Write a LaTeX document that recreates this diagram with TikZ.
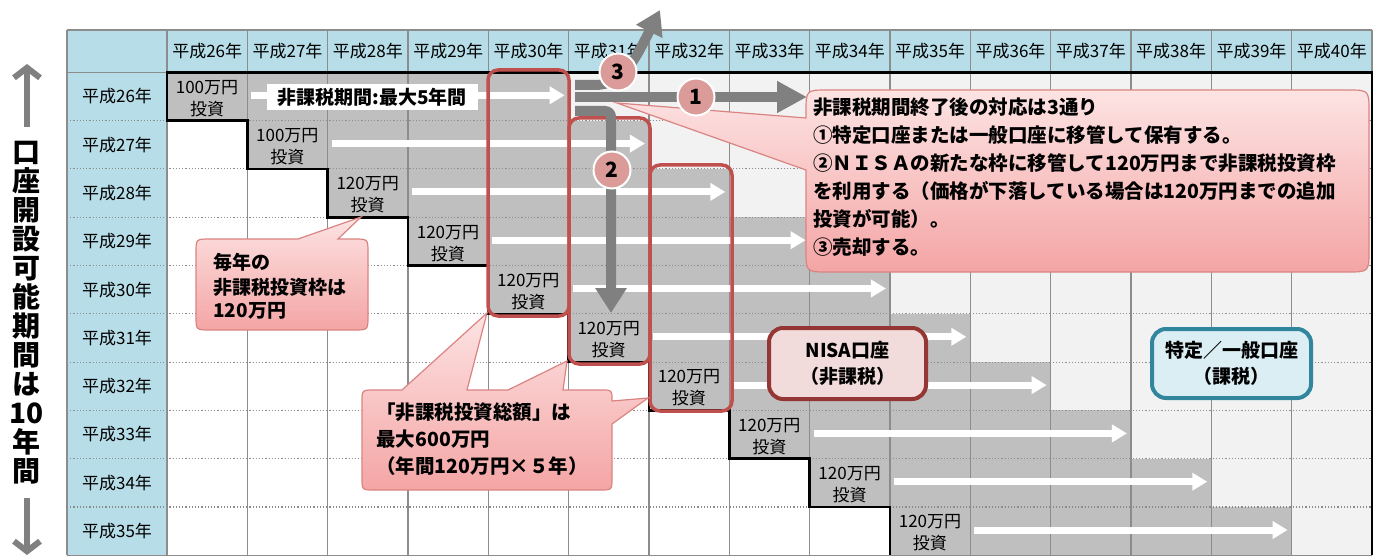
\documentclass[tikz,border=0pt]{standalone}
\usepackage{fontspec}
\newfontfamily\jp{Noto Sans CJK JP}
\usetikzlibrary{arrows.meta}
\definecolor{hdr}{HTML}{B7DEE8}
\definecolor{band}{HTML}{BFBFBF}
\definecolor{lgray}{HTML}{F2F2F2}
\definecolor{gridc}{HTML}{8C8C8C}
\definecolor{redo}{HTML}{C0504D}
\definecolor{garrow}{HTML}{808080}
\definecolor{cpink}{HTML}{DB9B98}
\definecolor{ctop}{HTML}{FDE3E3}
\definecolor{cbot}{HTML}{F4A5A5}
\definecolor{cedge}{HTML}{DA8482}
\definecolor{nisaE}{HTML}{943634}
\definecolor{nisaF}{HTML}{F2DCDB}
\definecolor{tokE}{HTML}{31859C}
\definecolor{tokF}{HTML}{DBEEF4}
\tikzset{
 hdrtext/.style={font=\jp\fontsize{8.5}{10}\selectfont, inner sep=0},
 celltext/.style={font=\jp\fontsize{8.5}{11}\selectfont, align=center, inner sep=0},
 bt/.style={font=\jp\bfseries\fontsize{9.5}{12}\selectfont, inner sep=0, anchor=west},
 btb/.style={font=\jp\bfseries\fontsize{9.75}{12}\selectfont, inner sep=0, anchor=west},
 warrow/.style={white, line width=3.5pt, -{Triangle[length=7.5pt,width=8.5pt]}},
 redframe/.style={draw=redo, line width=1.75pt, rounded corners=5pt},
 grayarrow/.style={garrow, line width=5pt},
 numcircle/.style={circle, fill=cpink, draw=white, line width=1pt, minimum size=18.5pt, inner sep=0, font=\jp\bfseries\fontsize{10.5}{10.5}\selectfont},
 callout/.style={top color=ctop, bottom color=cbot, draw=cedge, line width=0.6pt},
 gridline/.style={gridc, line width=0.6pt},
 acctbox/.style={rounded corners=7pt, line width=2pt, align=center, inner sep=0, font=\jp\bfseries\fontsize{9.5}{13}\selectfont},
}
\begin{document}
\begin{tikzpicture}[x=0.5pt,y=-0.5pt]
\useasboundingbox (0,0) rectangle (1382,556);
\fill[white] (0,0) rectangle (1382,556);
% header and first column
\fill[hdr] (67,30) rectangle (1372,72.3);
\fill[hdr] (67,72.3) rectangle (167,555.3);
% row fills
\foreach \i in {0,...,9} {
  \pgfmathsetmacro\ya{72.3+48.3*\i}
  \pgfmathsetmacro\yb{72.3+48.3*(\i+1)}
  \pgfmathsetmacro\xa{167+80.33*\i}
  \pgfmathsetmacro\xb{167+80.33*(\i+5)}
  \fill[band] (\xa,\ya) rectangle (\xb,\yb);
  \fill[lgray] (\xb,\ya) rectangle (1372,\yb);
}
% grid
\foreach \i in {0,...,15} \draw[gridline] (167+80.33*\i,30) -- (167+80.33*\i,555.3);
\draw[gridline] (67,30) -- (67,555.3);
\draw[gridline] (67,30) -- (1372,30);
\draw[gridline] (67,72.3) -- (167,72.3);
\draw[gridline] (67,555.3) -- (1372,555.3);
\foreach \j in {1,...,9} \draw[gridline, densely dotted] (67,72.3+48.3*\j) -- (1372,72.3+48.3*\j);
% black staircase
\draw[black, line width=1.3pt] (1372,555.3) -- (1372,72.3) -- (167,72.3)
  \foreach \i in {0,...,8} { -- (167+80.33*\i,72.3+48.3*\i+48.3) -- (167+80.33*\i+80.33,72.3+48.3*\i+48.3) } -- (889.97,555.3);
% header texts
\foreach \i [evaluate=\i as \yr using int(26+\i)] in {0,...,14}
  \node[hdrtext] (h\i) at (167+80.33*\i+40.2,51) {平成\yr 年};
\foreach \i [evaluate=\i as \yr using int(26+\i)] in {0,...,9}
  \node[hdrtext] (rl\i) at (117,72.3+48.3*\i+24.15) {平成\yr 年};
% white arrows and cell texts
\foreach \i in {0,...,9} {
  \pgfmathsetmacro\ya{72.3+48.3*\i}
  \pgfmathsetmacro\xa{167+80.33*\i}
  \pgfmathsetmacro\sa{167+80.33*(\i+1)+4}
  \pgfmathsetmacro\sb{167+80.33*(\i+5)-4}
  \draw[warrow] (\sa,\ya+23) -- (\sb,\ya+23);
  \node[celltext] (inv\i) at (\xa+40,\ya+26) {\ifnum\i<2 100\else 120\fi 万円\\投資};
}
\node[fill=white, minimum width=105.5pt, minimum height=13pt, inner sep=0,
  font=\jp\bfseries\fontsize{9.5}{12}\selectfont] (period) at (372,97) {非課税期間:最大5年間};
% red frames
\draw[redframe] (488,70) rectangle (569,316);
\draw[redframe] (569,118) rectangle (650,364);
\draw[redframe] (650,165) rectangle (732,411);
% big callout
\draw[callout] (828,90) -- (1347,90) .. controls (1369,90) .. (1369,112) -- (1369,250)
  .. controls (1369,272) .. (1347,272) -- (828,272) .. controls (806,272) .. (806,250)
  -- (806,170) -- (617,103) -- (806,118) -- (806,112) .. controls (806,90) .. (828,90) -- cycle;
\node[btb] (t1) at (813,107) {非課税期間終了後の対応は3通り};
\node[btb] (t2) at (813,135) {①特定口座または一般口座に移管して保有する。};
\node[btb] (t3) at (813,163) {②ＮＩＳＡの新たな枠に移管して120万円まで非課税投資枠};
\node[btb] (t4) at (813,191) {を利用する（価格が下落している場合は120万円までの追加};
\node[btb] (t5) at (813,219) {投資が可能）。};
\node[btb] (t6) at (813,247) {③売却する。};
% gray arrows
\coordinate (o1) at (575,97);
\coordinate (e1) at (807,97);
\coordinate (o2) at (575,111);
\coordinate (k2) at (611,111);
\coordinate (e2) at (611,313);
\coordinate (o3) at (575,85);
\coordinate (k3) at (595,85);
\coordinate (e3) at (660,10);
\draw[grayarrow, -{Triangle[length=15pt,width=15pt]}] (o1) -- (e1);
\draw[grayarrow, rounded corners=3pt, -{Triangle[length=12.5pt,width=15pt]}] (o2) -- (k2) -- (e2);
\draw[grayarrow, -{Triangle[length=12pt,width=14pt]}] (o3) -- (k3) .. controls (622,85) and (634,62) .. (e3);
\node[numcircle] (n1) at (696,97) {1};
\node[numcircle] (n2) at (612,170) {2};
\node[numcircle] (n3) at (618,72) {3};
% callout 1
\draw[callout] (210,239) -- (298,239) -- (361,217) -- (338,239) -- (354,239) .. controls (368,239) .. (368,253)
  -- (368,316) .. controls (368,330) .. (354,330) -- (210,330) .. controls (196,330) .. (196,316)
  -- (196,253) .. controls (196,239) .. (210,239) -- cycle;
\node[bt] (c1a) at (213,262) {毎年の};
\node[bt] (c1b) at (213,287) {非課税投資枠は};
\node[bt] (c1c) at (213,311) {120万円};
% callout 2
\draw[callout] (374,390) -- (402,390) -- (487,313) -- (467,390) -- (508,390) -- (567,361) -- (563,390)
  -- (602,390) .. controls (612,390) .. (612,400) -- (612,401) -- (648,398) -- (612,424)
  -- (612,478) .. controls (612,490) .. (600,490) -- (374,490) .. controls (362,490) .. (362,478)
  -- (362,402) .. controls (362,390) .. (374,390) -- cycle;
\node[btb] (c2a) at (376,412) {「非課税投資総額」は};
\node[btb] (c2b) at (376,439) {最大600万円};
\node[btb] (c2c) at (376,466) {（年間120万円×５年）};
% account boxes
\node[acctbox, draw=nisaE, fill=nisaF, minimum width=78.5pt, minimum height=35.5pt] (nisa) at (847.5,363.5) {NISA口座\\（非課税）};
\node[acctbox, draw=tokE, fill=tokF, minimum width=79.5pt, minimum height=34.5pt] (toku) at (1231.5,363.5) {特定／一般口座\\（課税）};
% left vertical label
\node[font=\jp\bfseries\fontsize{14}{14.5}\selectfont, align=center, inner sep=0] (vt) at (27,313)
  {口\\座\\開\\設\\可\\能\\期\\間\\は\\10\\年\\間};
\coordinate (ua) at (27,127);
\coordinate (ub) at (27,64);
\coordinate (da) at (27,498);
\coordinate (db) at (27,555);
\draw[garrow, line width=3pt, -{Straight Barb[length=5pt,width=13pt]}] (ua) -- (ub);
\draw[garrow, line width=3pt, -{Straight Barb[length=5pt,width=13pt]}] (da) -- (db);
\end{tikzpicture}
\end{document}
